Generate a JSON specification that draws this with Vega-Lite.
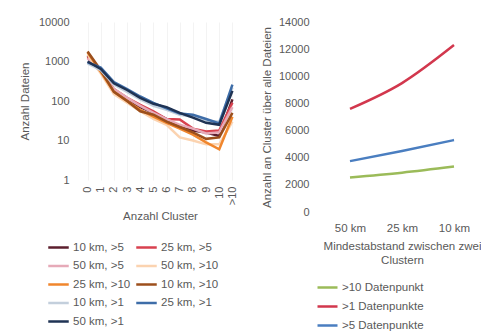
{
  "$schema": "https://vega.github.io/schema/vega-lite/v6.json",
  "background": "white",
  "padding": {"left": 19, "top": 16, "right": 0, "bottom": 0},
  "spacing": 22,
  "config": {
    "font": "Liberation Sans",
    "view": {"stroke": null},
    "axis": {"labelColor": "#595959", "titleColor": "#595959", "labelFontSize": 11, "titleFontSize": 11.5, "titleFontWeight": "normal", "domain": false, "ticks": false, "gridColor": "#f3f3f3"},
    "legend": {"labelColor": "#595959", "labelFontSize": 11.5, "symbolType": "stroke", "symbolStrokeWidth": 2.5, "title": null, "orient": "none", "direction": "horizontal"}
  },
  "datasets": {
    "left": [
      {"s": "10 km, >5", "c": "0", "v": 1400}, {"s": "10 km, >5", "c": "1", "v": 580}, {"s": "10 km, >5", "c": "2", "v": 190}, {"s": "10 km, >5", "c": "3", "v": 110}, {"s": "10 km, >5", "c": "4", "v": 70}, {"s": "10 km, >5", "c": "5", "v": 50}, {"s": "10 km, >5", "c": "6", "v": 35}, {"s": "10 km, >5", "c": "7", "v": 22}, {"s": "10 km, >5", "c": "8", "v": 18}, {"s": "10 km, >5", "c": "9", "v": 16}, {"s": "10 km, >5", "c": "10", "v": 13}, {"s": "10 km, >5", "c": ">10", "v": 110},
      {"s": "25 km, >5", "c": "0", "v": 1300}, {"s": "25 km, >5", "c": "1", "v": 600}, {"s": "25 km, >5", "c": "2", "v": 200}, {"s": "25 km, >5", "c": "3", "v": 120}, {"s": "25 km, >5", "c": "4", "v": 80}, {"s": "25 km, >5", "c": "5", "v": 55}, {"s": "25 km, >5", "c": "6", "v": 35}, {"s": "25 km, >5", "c": "7", "v": 34}, {"s": "25 km, >5", "c": "8", "v": 20}, {"s": "25 km, >5", "c": "9", "v": 17}, {"s": "25 km, >5", "c": "10", "v": 18}, {"s": "25 km, >5", "c": ">10", "v": 90},
      {"s": "50 km, >5", "c": "0", "v": 1200}, {"s": "50 km, >5", "c": "1", "v": 550}, {"s": "50 km, >5", "c": "2", "v": 200}, {"s": "50 km, >5", "c": "3", "v": 120}, {"s": "50 km, >5", "c": "4", "v": 75}, {"s": "50 km, >5", "c": "5", "v": 50}, {"s": "50 km, >5", "c": "6", "v": 35}, {"s": "50 km, >5", "c": "7", "v": 25}, {"s": "50 km, >5", "c": "8", "v": 20}, {"s": "50 km, >5", "c": "9", "v": 15}, {"s": "50 km, >5", "c": "10", "v": 16}, {"s": "50 km, >5", "c": ">10", "v": 70},
      {"s": "50 km, >10", "c": "0", "v": 1500}, {"s": "50 km, >10", "c": "1", "v": 500}, {"s": "50 km, >10", "c": "2", "v": 150}, {"s": "50 km, >10", "c": "3", "v": 90}, {"s": "50 km, >10", "c": "4", "v": 55}, {"s": "50 km, >10", "c": "5", "v": 35}, {"s": "50 km, >10", "c": "6", "v": 25}, {"s": "50 km, >10", "c": "7", "v": 12}, {"s": "50 km, >10", "c": "8", "v": 10}, {"s": "50 km, >10", "c": "9", "v": 8}, {"s": "50 km, >10", "c": "10", "v": 8}, {"s": "50 km, >10", "c": ">10", "v": 30},
      {"s": "25 km, >10", "c": "0", "v": 1700}, {"s": "25 km, >10", "c": "1", "v": 550}, {"s": "25 km, >10", "c": "2", "v": 170}, {"s": "25 km, >10", "c": "3", "v": 100}, {"s": "25 km, >10", "c": "4", "v": 60}, {"s": "25 km, >10", "c": "5", "v": 40}, {"s": "25 km, >10", "c": "6", "v": 28}, {"s": "25 km, >10", "c": "7", "v": 20}, {"s": "25 km, >10", "c": "8", "v": 14}, {"s": "25 km, >10", "c": "9", "v": 9}, {"s": "25 km, >10", "c": "10", "v": 6}, {"s": "25 km, >10", "c": ">10", "v": 40},
      {"s": "10 km, >10", "c": "0", "v": 1800}, {"s": "10 km, >10", "c": "1", "v": 600}, {"s": "10 km, >10", "c": "2", "v": 170}, {"s": "10 km, >10", "c": "3", "v": 100}, {"s": "10 km, >10", "c": "4", "v": 55}, {"s": "10 km, >10", "c": "5", "v": 45}, {"s": "10 km, >10", "c": "6", "v": 30}, {"s": "10 km, >10", "c": "7", "v": 22}, {"s": "10 km, >10", "c": "8", "v": 16}, {"s": "10 km, >10", "c": "9", "v": 11}, {"s": "10 km, >10", "c": "10", "v": 12}, {"s": "10 km, >10", "c": ">10", "v": 50},
      {"s": "10 km, >1", "c": "0", "v": 900}, {"s": "10 km, >1", "c": "1", "v": 600}, {"s": "10 km, >1", "c": "2", "v": 260}, {"s": "10 km, >1", "c": "3", "v": 170}, {"s": "10 km, >1", "c": "4", "v": 110}, {"s": "10 km, >1", "c": "5", "v": 75}, {"s": "10 km, >1", "c": "6", "v": 60}, {"s": "10 km, >1", "c": "7", "v": 45}, {"s": "10 km, >1", "c": "8", "v": 40}, {"s": "10 km, >1", "c": "9", "v": 32}, {"s": "10 km, >1", "c": "10", "v": 30}, {"s": "10 km, >1", "c": ">10", "v": 220},
      {"s": "25 km, >1", "c": "0", "v": 950}, {"s": "25 km, >1", "c": "1", "v": 700}, {"s": "25 km, >1", "c": "2", "v": 300}, {"s": "25 km, >1", "c": "3", "v": 200}, {"s": "25 km, >1", "c": "4", "v": 130}, {"s": "25 km, >1", "c": "5", "v": 90}, {"s": "25 km, >1", "c": "6", "v": 65}, {"s": "25 km, >1", "c": "7", "v": 48}, {"s": "25 km, >1", "c": "8", "v": 45}, {"s": "25 km, >1", "c": "9", "v": 35}, {"s": "25 km, >1", "c": "10", "v": 27}, {"s": "25 km, >1", "c": ">10", "v": 260},
      {"s": "50 km, >1", "c": "0", "v": 1000}, {"s": "50 km, >1", "c": "1", "v": 650}, {"s": "50 km, >1", "c": "2", "v": 280}, {"s": "50 km, >1", "c": "3", "v": 190}, {"s": "50 km, >1", "c": "4", "v": 120}, {"s": "50 km, >1", "c": "5", "v": 85}, {"s": "50 km, >1", "c": "6", "v": 70}, {"s": "50 km, >1", "c": "7", "v": 50}, {"s": "50 km, >1", "c": "8", "v": 38}, {"s": "50 km, >1", "c": "9", "v": 28}, {"s": "50 km, >1", "c": "10", "v": 25}, {"s": "50 km, >1", "c": ">10", "v": 180}
    ],
    "right": [
      {"s": ">10 Datenpunkt", "d": "50 km", "v": 2550}, {"s": ">10 Datenpunkt", "d": "25 km", "v": 2900}, {"s": ">10 Datenpunkt", "d": "10 km", "v": 3350},
      {"s": ">1 Datenpunkte", "d": "50 km", "v": 7600}, {"s": ">1 Datenpunkte", "d": "25 km", "v": 9500}, {"s": ">1 Datenpunkte", "d": "10 km", "v": 12300},
      {"s": ">5 Datenpunkte", "d": "50 km", "v": 3750}, {"s": ">5 Datenpunkte", "d": "25 km", "v": 4500}, {"s": ">5 Datenpunkte", "d": "10 km", "v": 5300}
    ]
  },
  "hconcat": [
    {
      "width": 158, "height": 158,
      "data": {"name": "left"},
      "mark": {"type": "line", "strokeWidth": 2.5},
      "encoding": {
        "x": {"field": "c", "type": "ordinal", "sort": ["0","1","2","3","4","5","6","7","8","9","10",">10"], "scale": {"type": "point", "padding": 0.5}, "axis": {"title": "Anzahl Cluster", "labelAngle": -90, "labelPadding": 6, "titlePadding": 6, "grid": true}},
        "y": {"field": "v", "type": "quantitative", "scale": {"type": "log", "domain": [1, 10000]}, "axis": {"title": "Anzahl Dateien", "values": [1, 10, 100, 1000, 10000], "format": "d", "labelPadding": 12, "titlePadding": 8, "grid": false}},
        "color": {"field": "s", "type": "nominal", "sort": ["10 km, >5", "25 km, >5", "50 km, >5", "50 km, >10", "25 km, >10", "10 km, >10", "10 km, >1", "25 km, >1", "50 km, >1"],
          "scale": {"domain": ["10 km, >5", "25 km, >5", "50 km, >5", "50 km, >10", "25 km, >10", "10 km, >10", "10 km, >1", "25 km, >1", "50 km, >1"], "range": ["#5c1f2e", "#d8414f", "#e6aab8", "#fbd3b0", "#f0862d", "#9c4f1c", "#c3cfdc", "#3e6da8", "#1f3354"]},
          "legend": {"columns": 2, "symbolSize": 420, "columnPadding": 0, "rowPadding": 1.5, "labelOffset": 3, "legendX": -34, "legendY": 214}}
      }
    },
    {
      "width": 156, "height": 190,
      "data": {"name": "right"},
      "mark": {"type": "line", "strokeWidth": 2.5, "interpolate": "monotone"},
      "encoding": {
        "x": {"field": "d", "type": "ordinal", "sort": ["50 km", "25 km", "10 km"], "scale": {"type": "point", "padding": 0.5}, "axis": {"title": ["Mindestabstand zwischen zwei", "Clustern"], "labelAngle": 0, "labelPadding": 10, "labelFontSize": 11.5, "titlePadding": 7, "grid": false}},
        "y": {"field": "v", "type": "quantitative", "scale": {"domain": [0, 14000]}, "axis": {"title": "Anzahl an Cluster über alle Dateien", "values": [0, 2000, 4000, 6000, 8000, 10000, 12000, 14000], "format": "d", "labelPadding": 15, "titlePadding": 6, "grid": false}},
        "color": {"field": "s", "type": "nominal", "sort": [">10 Datenpunkt", ">1 Datenpunkte", ">5 Datenpunkte"],
          "scale": {"domain": [">10 Datenpunkt", ">1 Datenpunkte", ">5 Datenpunkte"], "range": ["#9bbb59", "#d2374d", "#4a7ec0"]},
          "legend": {"columns": 1, "symbolSize": 400, "rowPadding": 2, "labelOffset": 3, "legendX": -8, "legendY": 254}}
      }
    }
  ],
  "resolve": {"scale": {"color": "independent"}, "legend": {"color": "independent"}}
}
